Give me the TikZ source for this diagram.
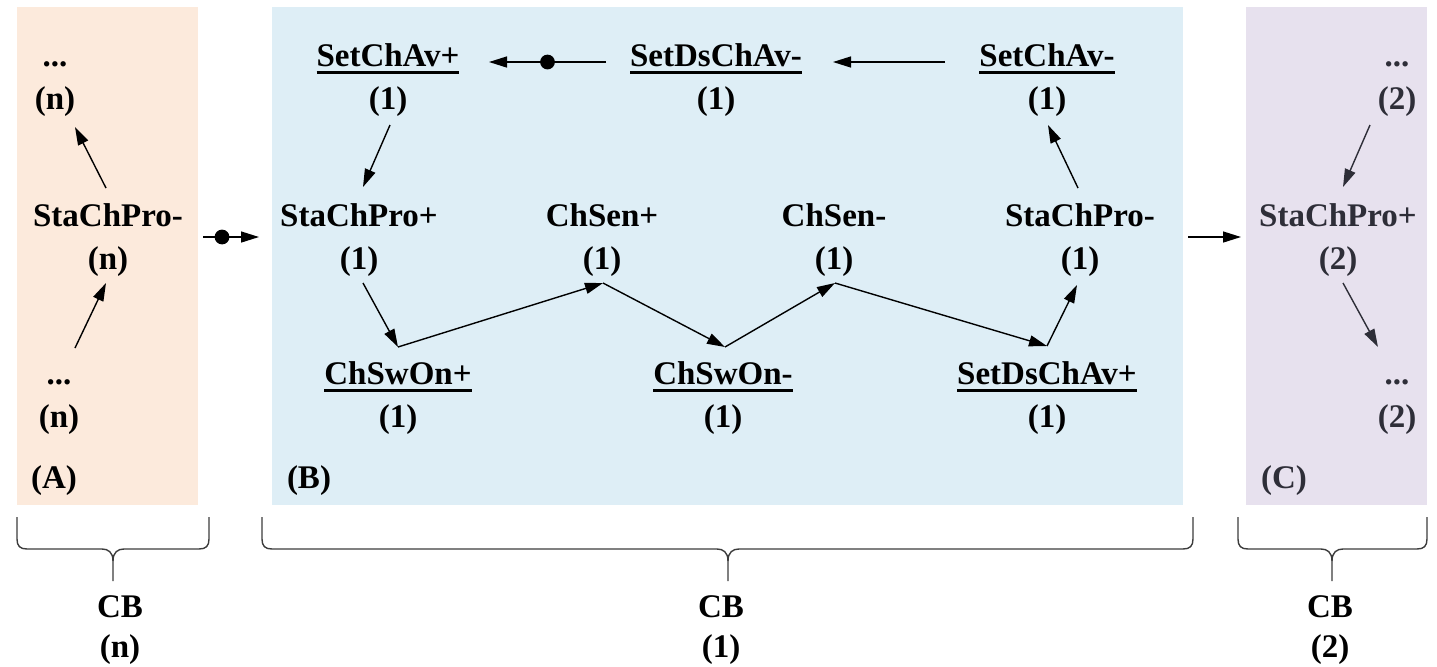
\documentclass[tikz,border=0pt]{standalone}
\usepackage{fontspec}
\setmainfont{Liberation Serif}[BoldFont={Liberation Serif Bold}]
\usetikzlibrary{arrows.meta,calc}

\definecolor{panelA}{HTML}{FCEADC}
\definecolor{panelB}{HTML}{DEEEF6}
\definecolor{panelC}{HTML}{E7E1EE}
\definecolor{fadedtext}{HTML}{2E2E38}
\definecolor{bracegray}{HTML}{3C3C3C}

% thick underline spanning the whole word
\newcommand{\ulword}[1]{\setbox0\hbox{#1}\rlap{\rule[-4pt]{\wd0}{1.4pt}}\box0}
% two stacked lines of equal height
\newcommand{\twoline}[2]{#1\strut\\#2\strut}
% curly brace: left x, right x, tip x
\newcommand{\cbrace}[3]{%
  \draw[bracestroke] (#1,517) -- (#1,539) .. controls (#1,546) and (#1+3,549) .. (#1+10,549)
    -- (#3-11,549) .. controls (#3-5,549) and (#3,552) .. (#3,561) -- (#3,581);
  \draw[bracestroke] (#2,517) -- (#2,539) .. controls (#2,546) and (#2-3,549) .. (#2-10,549)
    -- (#3+11,549) .. controls (#3+5,549) and (#3,552) .. (#3,561);
}

\begin{document}
\begin{tikzpicture}[x=0.5pt,y=-0.5pt,
  every node/.style={font=\rmfamily\bfseries\fontsize{16.5}{21.5}\selectfont},
  state/.style={align=center,inner sep=0pt},
  faded/.style={state,text=fadedtext},
  cb/.style={align=center,inner sep=0pt,font=\rmfamily\bfseries\fontsize{16.5}{20}\selectfont},
  panel/.style={inner sep=0pt,minimum height=249pt},
  arr/.style={-{Triangle[length=9pt,width=5.5pt]},line width=0.7pt},
  fadedarr/.style={arr,draw=fadedtext},
  bracestroke/.style={draw=bracegray,line width=0.7pt}
]
\useasboundingbox (0,0) rectangle (1437,666);

% background panels
\node[panel,fill=panelA,minimum width=90.5pt]  (pA) at (107.5,256) {};
\node[panel,fill=panelB,minimum width=455.5pt] (pB) at (727.5,256) {};
\node[panel,fill=panelC,minimum width=90.5pt]  (pC) at (1336.5,256) {};

\node[anchor=base] (lA) at (54,488) {(A)};
\node[anchor=base] (lB) at (309,488) {(B)};
\node[anchor=base,text=fadedtext] (lC) at (1284,488) {(C)};

% panel A
\node[state] (aTop) at (55,79)  {\twoline{...}{(n)}};
\node[state] (aMid) at (108,239) {\twoline{StaChPro-}{(n)}};
\node[state] (aBot) at (59,397) {\twoline{...}{(n)}};
\draw[arr] ($(aMid)+(-2,-51)$) -- ($(aTop)+(20,48)$);
\draw[arr] ($(aBot)+(16,-49)$) -- ($(aMid)+(-2,44)$);

% panel B
\node[state] (t1) at (388,79)  {\twoline{\ulword{SetChAv+}}{(1)}};
\node[state] (t2) at (716,79)  {\twoline{\ulword{SetDsChAv-}}{(1)}};
\node[state] (t3) at (1047,79) {\twoline{\ulword{SetChAv-}}{(1)}};
\node[state] (m1) at (359,239)  {\twoline{StaChPro+}{(1)}};
\node[state] (m2) at (602,239)  {\twoline{ChSen+}{(1)}};
\node[state] (m3) at (834,239)  {\twoline{ChSen-}{(1)}};
\node[state] (m4) at (1080,239) {\twoline{StaChPro-}{(1)}};
\node[state] (b1) at (398,397)  {\twoline{\ulword{ChSwOn+}}{(1)}};
\node[state] (b2) at (723,397)  {\twoline{\ulword{ChSwOn-}}{(1)}};
\node[state] (b3) at (1047,397) {\twoline{\ulword{SetDsChAv+}}{(1)}};

\draw[arr] ($(t2)+(-110,-17)$) -- coordinate[pos=0.5] (dotT) ($(t1)+(101,-17)$);
\fill (dotT) circle (3.7pt);
\draw[arr] ($(t3)+(-102,-17)$) -- ($(t2)+(117,-17)$);
\draw[arr] ($(t1)+(2,46)$)  -- ($(m1)+(4,-52)$);
\draw[arr] ($(m1)+(4,44)$)  -- ($(b1)+(0,-50)$);
\draw[arr] ($(b1)+(0,-50)$) -- ($(m2)+(1,44)$);
\draw[arr] ($(m2)+(1,44)$)  -- ($(b2)+(2,-50)$);
\draw[arr] ($(b2)+(2,-50)$) -- ($(m3)+(1,44)$);
\draw[arr] ($(m3)+(1,44)$)  -- ($(b3)+(0,-51)$);
\draw[arr] ($(b3)+(0,-51)$) -- ($(m4)+(-3,46)$);
\draw[arr] ($(m4)+(-2,-51)$) -- ($(t3)+(1,46)$);

% panel C
\node[faded] (cTop) at (1397,79)  {\twoline{...}{(2)}};
\node[faded] (cMid) at (1338,239) {\twoline{StaChPro+}{(2)}};
\node[faded] (cBot) at (1397,397) {\twoline{...}{(2)}};
\draw[fadedarr] ($(cTop)+(-27,46)$) -- ($(cMid)+(5,-52)$);
\draw[fadedarr] ($(cMid)+(5,44)$) -- ($(cBot)+(-19,-50)$);

% links between panels
\draw[arr] ($(pA)+(95.5,-19)$) -- coordinate[pos=0.34] (dotAB) ($(pB)+(-468.5,-19)$);
\fill (dotAB) circle (3.7pt);
\draw[arr] ($(pB)+(460.5,-19)$) -- ($(pC)+(-95.5,-19)$);

% braces and their labels
\cbrace{17}{209}{113}
\cbrace{262}{1193}{728}
\cbrace{1238}{1427}{1332}
\node[cb] (cbA) at (120,629)  {\twoline{CB}{(n)}};
\node[cb] (cbB) at (721,629)  {\twoline{CB}{(1)}};
\node[cb] (cbC) at (1330,629) {\twoline{CB}{(2)}};
\end{tikzpicture}
\end{document}
